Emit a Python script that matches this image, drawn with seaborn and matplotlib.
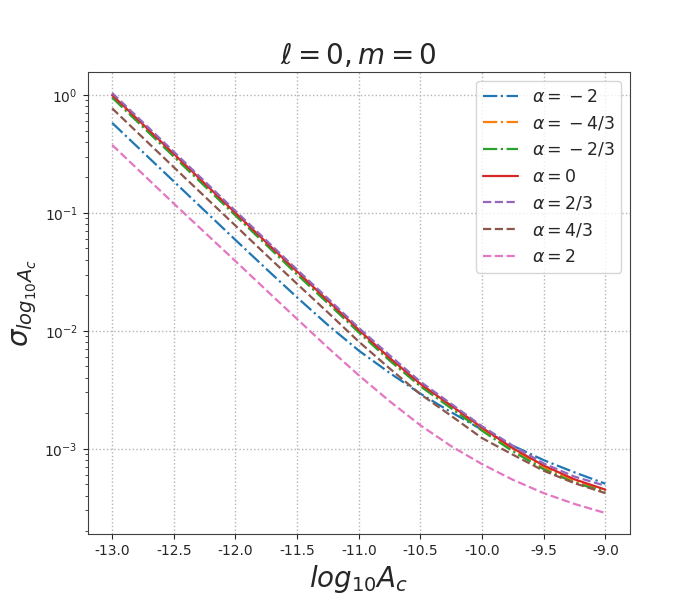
import numpy as np
import pandas as pd
import matplotlib
matplotlib.use("Agg")
import matplotlib.pyplot as plt
import seaborn as sns

# log10 A_c grid
log_ac = [-13.0, -12.5, -12.0, -11.75, -11.5, -11.25, -11.0, -10.75,
          -10.5, -10.25, -10.0, -9.75, -9.5, -9.25, -9.0]

sig_m2 = [0.58, 0.185, 0.059, 0.0335, 0.0192, 0.0112, 0.0068, 0.0044,
          0.00293, 0.00204, 0.00145, 0.00106, 0.00080, 0.00063, 0.000505]
sig_m43 = [0.97, 0.307, 0.097, 0.0548, 0.031, 0.0175, 0.0099, 0.0057,
           0.00345, 0.00225, 0.00146, 0.00098, 0.00069, 0.00053, 0.00044]
sig_m23 = [0.95, 0.30, 0.095, 0.0535, 0.030, 0.0171, 0.0097, 0.0056,
           0.00338, 0.0022, 0.00142, 0.00095, 0.00067, 0.000515, 0.00043]
sig_0 = [1.0, 0.317, 0.100, 0.0563, 0.0318, 0.0180, 0.0102, 0.0059,
         0.00355, 0.00232, 0.00151, 0.00101, 0.00072, 0.00055, 0.00045]
sig_p23 = [1.04, 0.33, 0.104, 0.0585, 0.033, 0.0188, 0.0106, 0.0062,
           0.0037, 0.00240, 0.00155, 0.00106, 0.00075, 0.00058, 0.000485]
sig_p43 = [0.77, 0.244, 0.078, 0.044, 0.025, 0.0143, 0.0081, 0.0048,
           0.0029, 0.0019, 0.00123, 0.00089, 0.00065, 0.00051, 0.00042]
sig_p2 = [0.377, 0.12, 0.039, 0.0221, 0.0126, 0.0072, 0.0042, 0.00253,
          0.00158, 0.00105, 0.00074, 0.000545, 0.00042, 0.00034, 0.000285]

labels = [r"$\alpha={}-2$", r"$\alpha={}-4/3$", r"$\alpha={}-2/3$",
          r"$\alpha=0$", r"$\alpha=2/3$", r"$\alpha=4/3$", r"$\alpha=2$"]
series = [sig_m2, sig_m43, sig_m23, sig_0, sig_p23, sig_p43, sig_p2]
styles = ["-.", "-.", "-.", "-", "--", "--", "--"]

sns.set_style("ticks")
plt.rcParams["axes.unicode_minus"] = False
plt.rcParams["axes.edgecolor"] = "0.25"
colors = sns.color_palette("tab10", 7)

fig, ax = plt.subplots(figsize=(7, 6), dpi=100)
fig.subplots_adjust(left=0.125, right=0.9, bottom=0.11, top=0.88)

for vals, lab, ls, c in zip(series, labels, styles, colors):
    df = pd.DataFrame({"x": log_ac, "y": vals})
    sns.lineplot(data=df, x="x", y="y", ax=ax, color=c, linestyle=ls,
                 linewidth=1.6, label=lab)

ax.set_yscale("log")
ax.grid(True, which="major", linestyle=":", color="0.7", linewidth=1)
ax.set_title(r"$\ell=0, m=0$", fontsize=20)
ax.set_xlabel(r"$log_{10}A_c$", fontsize=20)
ax.set_ylabel(r"$\sigma_{log_{10}A_c}$", fontsize=20)
ax.set_xticks([-13.0, -12.5, -12.0, -11.5, -11.0, -10.5, -10.0, -9.5, -9.0])
ax.legend(loc="upper right", fontsize=12.5, frameon=True)

fig.savefig("out.png", dpi=100)
